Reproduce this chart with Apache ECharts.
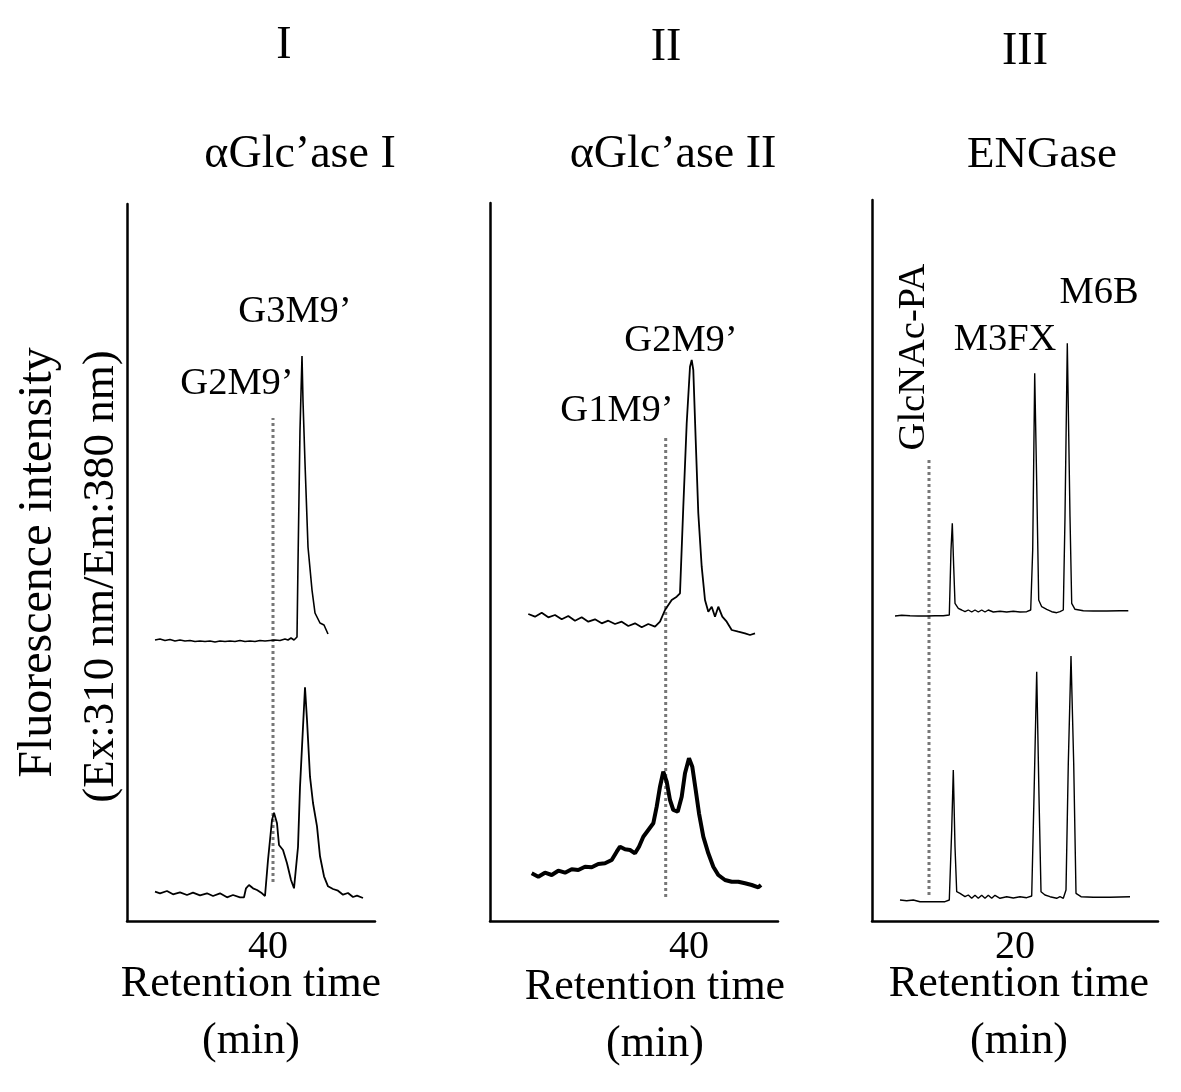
<!DOCTYPE html>
<html>
<head>
<meta charset="utf-8">
<script src="https://cdn.jsdelivr.net/npm/echarts@6/dist/echarts.min.js"></script>
<style>html,body{margin:0;padding:0;background:#fff;}#c{width:1181px;height:1092px;}</style>
</head>
<body>
<div id="c"></div>
<script>
// ---- data (retention time in min, fluorescence in arbitrary units) ----
const panelTitles = ['I', 'II', 'III'];
const panelEnzymes = ['\u03b1Glc\u2019ase I', '\u03b1Glc\u2019ase II', 'ENGase'];
const tickLabels = [[40], [40], [20]];

const p1Upper = [[28.7,281],[29.2,282],[29.7,280.5],[30.2,281.5],[30.7,280],[31.2,281],[31.7,280],[32.2,280.5],[32.7,279.5],[33.2,280],[33.7,279.5],[34.2,280],[34.7,279],[35.2,280],[35.7,279.5],[36.2,280],[36.7,279.5],[37.2,280.5],[37.7,279.5],[38.2,280],[38.7,279.5],[39.2,280.5],[39.7,280],[40.2,280.5],[40.7,281],[41.2,280.5],[41.7,282],[42.0,281],[42.3,283],[42.6,281],[42.9,284],[43.0,358],[43.2,491],[43.4,565],[43.5,520],[43.7,458],[44.0,374],[44.4,331],[44.7,308],[45.2,298],[45.6,296],[46.0,287]];
const p1Lower = [[28.7,29.3],[29.2,27.7],[29.9,30],[30.5,26.7],[31.2,28.7],[31.9,26],[32.5,28.3],[33.2,25.7],[33.9,27.7],[34.5,25],[35.2,27.7],[35.9,23.7],[36.5,26],[37.2,23.7],[37.6,23.7],[37.8,32.7],[38.1,36],[38.5,32.7],[38.9,31],[39.4,27.7],[39.7,25],[40.0,61],[40.4,101],[40.6,108.3],[40.9,97.7],[41.1,76],[41.5,71],[41.9,57.7],[42.3,41],[42.6,32.7],[43.0,74],[43.2,134],[43.5,194],[43.7,233.7],[43.9,201],[44.2,144.3],[44.5,118],[44.9,94.7],[45.2,64.7],[45.6,44.7],[46.0,34.7],[46.5,32],[47.0,30.3],[47.5,26.3],[48.0,28],[48.5,24],[48.9,25.3],[49.5,23]];
const p1Marker = [[40.5,39],[40.5,503]];

const p2Upper = [[23.93,307],[24.6,304.3],[25.27,308.3],[25.93,303.7],[26.6,306],[27.27,301.7],[27.93,305],[28.6,300.3],[29.27,303.7],[29.93,299.3],[30.6,301.7],[31.27,297.7],[31.93,300.3],[32.6,297],[33.27,299.3],[33.93,295],[34.6,297.7],[35.27,293.7],[35.93,297],[36.6,294.3],[37.1,299.3],[37.6,311],[38.27,321],[38.77,324.3],[39.1,327.7],[39.43,414.3],[39.77,497.7],[40.1,554.3],[40.27,561],[40.43,551],[40.67,481],[40.93,407.7],[41.27,354.3],[41.6,321],[41.93,309.3],[42.27,314.3],[42.6,304.3],[42.93,314.3],[43.33,304.3],[43.77,299.3],[44.27,291],[44.93,289.3],[45.6,287.7],[46.1,286],[46.6,287.7]];
const p2Lower = [[24.27,47.7],[24.93,44.3],[25.6,48.3],[26.27,46],[26.93,50.3],[27.6,48.3],[28.27,51.7],[28.93,51],[29.6,54.3],[30.27,53.7],[30.93,57],[31.6,57.7],[32.27,61],[32.77,69.3],[33.1,74.3],[33.6,71.7],[34.1,71],[34.6,67.7],[35.0,74.3],[35.43,84.3],[35.93,91],[36.43,97.7],[36.77,114.3],[37.1,134.3],[37.43,149.3],[37.77,139.3],[38.1,121],[38.43,111],[38.87,109.3],[39.27,124.3],[39.6,147.7],[40.0,162.7],[40.33,154.3],[40.67,131],[41.0,107.7],[41.43,84.3],[41.93,67.7],[42.43,54.3],[42.93,46],[43.6,41],[44.27,39.3],[44.93,39.3],[45.6,37.7],[46.27,36],[46.93,33.7],[47.2,36]];
const p2Marker = [[37.67,24],[37.67,483]];

const p3Upper = [[8.0,305],[8.67,305.7],[9.5,305.3],[10.33,305],[11.17,305],[12.0,305.3],[12.83,305.3],[13.43,306],[13.6,371],[13.73,397.7],[13.87,354.3],[14.0,317.7],[14.33,312.7],[14.67,311],[15.0,309.3],[15.33,311],[15.67,309],[16.0,311],[16.33,309],[16.67,311],[17.0,309],[17.33,311],[17.83,309],[18.5,309.7],[19.17,309],[19.83,309.7],[20.5,309],[21.17,309.3],[21.57,311],[21.77,371],[21.97,547.7],[22.17,437.7],[22.37,321],[22.67,314.3],[23.17,311.7],[23.67,309.3],[24.17,308.3],[24.5,309.3],[24.83,311],[25.0,404.3],[25.23,577.7],[25.5,404.3],[25.67,317.7],[26.0,311.7],[26.83,310.3],[27.83,310],[29.17,310],[30.5,310.3],[31.33,310.3]];
const p3Lower = [[8.5,21],[9.17,20.3],[9.83,21],[10.5,19.3],[11.17,19.3],[12.17,19.3],[13.0,19.3],[13.43,21],[13.67,91],[13.83,151],[14.0,74.3],[14.17,29.3],[14.5,27.7],[15.0,24.3],[15.33,26],[15.67,22.7],[16.0,25.7],[16.33,22.7],[16.67,25.7],[17.0,22.7],[17.33,25.7],[17.67,22.7],[18.0,25.7],[18.5,22.7],[19.17,24.3],[19.83,23],[20.5,24.3],[21.17,23.3],[21.67,25],[21.9,124.3],[22.17,249.3],[22.4,124.3],[22.6,29.3],[23.0,26],[23.5,24.3],[24.17,22.7],[24.5,24.3],[24.83,22.7],[25.1,31],[25.33,157.7],[25.6,265],[25.87,157.7],[26.1,27.7],[26.6,24.3],[27.83,23.7],[29.5,23.7],[31.5,24.3]];
const p3Marker = [[11.4,26],[11.4,461]];

// ---- chart ----
const FONT = "'Liberation Serif', 'Times New Roman', serif";
const chart = echarts.init(document.getElementById('c'), null, {renderer: 'canvas'});

const grids = [
  {left: 127, top: 204, width: 248, height: 717},
  {left: 490, top: 203, width: 288, height: 718},
  {left: 872, top: 200, width: 286, height: 721}
];
const xRanges = [[25.9, 50.7], [20.1, 48.9], [5.7, 34.3]];
const namePad = [[0,0,0,0], [0,0,0,42], [0,0,0,8]];
const nameGaps = [35, 38, 35];

const axisLine = {show: true, onZero: false, lineStyle: {color: '#000', width: 2.5}};

const xAxes = grids.map((g, i) => ({
  type: 'value', gridIndex: i, min: xRanges[i][0], max: xRanges[i][1],
  axisLine: axisLine, axisTick: {show: false}, splitLine: {show: false},
  axisLabel: {customValues: tickLabels[i], margin: 6, fontSize: 40, fontFamily: FONT, color: '#000'},
  name: 'Retention time\n(min)', nameLocation: 'middle', nameGap: nameGaps[i], nameMoveOverlap: false,
  nameTextStyle: {fontSize: 44, fontFamily: FONT, color: '#000', lineHeight: 57, padding: namePad[i]}
}));
const yAxes = grids.map((g, i) => ({
  type: 'value', gridIndex: i, min: 0, max: g.height,
  axisLine: axisLine, axisTick: {show: false}, splitLine: {show: false}, axisLabel: {show: false},
  name: i === 0 ? '{a|Fluorescence intensity}\n{b|(Ex:310 nm/Em:380 nm)}' : '',
  nameLocation: 'middle', nameGap: -6, nameMoveOverlap: false,
  nameTextStyle: {
    fontFamily: FONT, color: '#000',
    rich: {
      a: {fontSize: 48, fontFamily: FONT, color: '#000', lineHeight: 63},
      b: {fontSize: 45, fontFamily: FONT, color: '#000', lineHeight: 63, padding: [0, 28, 0, 0]}
    }
  }
}));

function trace(data, idx, width) {
  return {type: 'line', xAxisIndex: idx, yAxisIndex: idx, data: data, showSymbol: false, symbol: 'none',
    lineStyle: {color: '#000', width: width}, silent: true, z: 3};
}
function marker(data, idx) {
  return {type: 'line', xAxisIndex: idx, yAxisIndex: idx, data: data, showSymbol: false, symbol: 'none',
    lineStyle: {color: '#777', width: 3, type: [3, 3]}, silent: true, z: 2};
}

function txt(text, x, y, size, rot) {
  return {type: 'text', x: x, y: y, rotation: rot || 0, silent: true,
    style: {text: text, fontSize: size, fontFamily: FONT, fill: '#000', align: 'center', verticalAlign: 'middle'}};
}

const graphics = [
  txt(panelTitles[0], 284, 46, 46),
  txt(panelTitles[1], 666, 48, 46),
  txt(panelTitles[2], 1025, 52, 46),
  txt(panelEnzymes[0], 300, 155, 46),
  txt(panelEnzymes[1], 673, 155, 46),
  txt(panelEnzymes[2], 1042, 155, 45),
  txt('G3M9\u2019', 295, 312, 38.5),
  txt('G2M9\u2019', 237, 384, 38.5),
  txt('G2M9\u2019', 681, 341, 38.5),
  txt('G1M9\u2019', 617, 411, 38.5),
  txt('M3FX', 1005, 340, 38.5),
  txt('M6B', 1099, 293, 38.5),
  txt('GlcNAc-PA', 914, 357, 38.5, Math.PI / 2)
];

chart.setOption({
  animation: false,
  backgroundColor: '#fff',
  grid: grids,
  xAxis: xAxes,
  yAxis: yAxes,
  series: [
    marker(p1Marker, 0), trace(p1Upper, 0, 1.6), trace(p1Lower, 0, 1.8),
    marker(p2Marker, 1), trace(p2Upper, 1, 1.8), trace(p2Lower, 1, 4),
    marker(p3Marker, 2), trace(p3Upper, 2, 1.4), trace(p3Lower, 2, 1.4)
  ],
  graphic: graphics
});
</script>
</body>
</html>
